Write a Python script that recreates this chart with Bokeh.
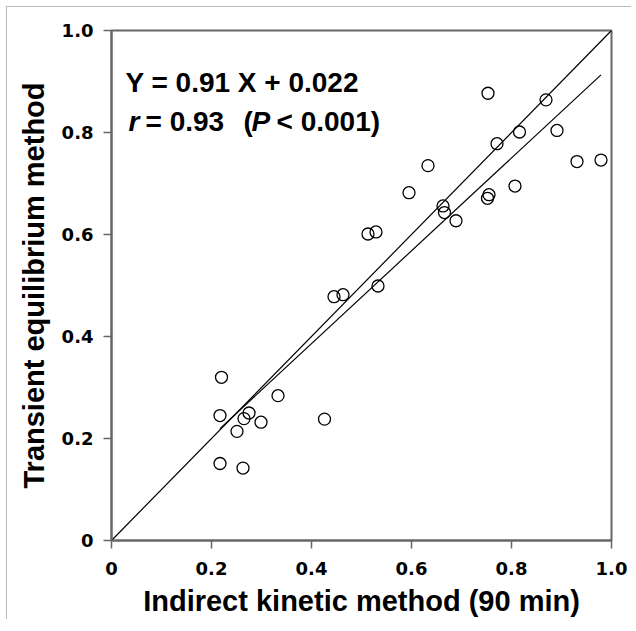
from bokeh.plotting import figure
from bokeh.models import Label, Range1d, FixedTicker
from bokeh.embed import file_html
from bokeh.resources import INLINE

# Data
indirect_kinetic = [0.220, 0.217, 0.275, 0.265, 0.299, 0.251, 0.333, 0.426, 0.217, 0.263,
                    0.445, 0.463, 0.533, 0.513, 0.529, 0.595, 0.633, 0.663, 0.666, 0.689,
                    0.752, 0.755, 0.807, 0.771, 0.816, 0.891, 0.869, 0.753, 0.931, 0.979]
transient_eq = [0.320, 0.245, 0.250, 0.239, 0.232, 0.214, 0.284, 0.238, 0.151, 0.142,
                0.478, 0.482, 0.499, 0.601, 0.605, 0.682, 0.735, 0.656, 0.643, 0.627,
                0.671, 0.678, 0.695, 0.778, 0.801, 0.804, 0.864, 0.877, 0.743, 0.746]
slope = 0.91
intercept = 0.022
identity = [0.0, 1.0]
tick_values = [0, 0.2, 0.4, 0.6, 0.8, 1.0]
tick_labels = {0: "0", 0.2: "0.2", 0.4: "0.4", 0.6: "0.6", 0.8: "0.8", 1.0: "1.0"}

FONT = "Liberation Sans"
TICKFONT = "DejaVu Sans"
AX = "#666666"

p = figure(frame_width=500, frame_height=510,
           x_range=Range1d(0, 1.0), y_range=Range1d(0, 1.0),
           output_backend="svg", toolbar_location=None,
           min_border_left=104, min_border_top=23, min_border_right=20, min_border_bottom=76,
           margin=(6, 0, 0, 6),
           styles={"border-top": "1px solid #b8b8b8", "border-left": "1px solid #b8b8b8"})
p.grid.visible = False
p.outline_line_color = AX
p.outline_line_width = 2
p.background_fill_color = "white"
p.border_fill_color = "white"

for ax in (p.xaxis[0], p.yaxis[0]):
    ax.ticker = FixedTicker(ticks=tick_values)
    ax.major_label_overrides = tick_labels
    ax.minor_tick_line_color = None
    ax.major_tick_in = 0
    ax.major_tick_out = 8
    ax.axis_line_color = AX
    ax.axis_line_width = 2
    ax.major_tick_line_color = AX
    ax.major_tick_line_width = 1.5
    ax.major_label_text_font = TICKFONT
    ax.major_label_text_font_style = "bold"
    ax.major_label_text_font_size = "18px"
    ax.major_label_text_color = "black"
    ax.axis_label_text_font = FONT
    ax.axis_label_text_font_style = "bold"
    ax.axis_label_text_font_size = "29px"
    ax.axis_label_text_color = "black"

p.xaxis.axis_label = "Indirect kinetic method (90 min)"
p.yaxis.axis_label = "Transient equilibrium method"
p.xaxis.major_label_standoff = 13
p.yaxis.major_label_standoff = 10
p.xaxis.axis_label_standoff = 7
p.yaxis.axis_label_standoff = 9

# identity line
p.line(identity, identity, line_color="black", line_width=1.2)
# regression line
x0, x1 = min(indirect_kinetic), max(indirect_kinetic)
p.line([x0, x1], [slope * x0 + intercept, slope * x1 + intercept], line_color="black", line_width=1.2)

p.scatter(indirect_kinetic, transient_eq, size=12, fill_color=None,
          line_color="black", line_width=1.3)

def lab(x, y, text, style="bold"):
    p.add_layout(Label(x=x, y=y, text=text, text_font=FONT, text_font_style=style,
                       text_font_size="28px", text_color="black",
                       text_baseline="alphabetic", text_align="left"))

y1 = (540 - 81.7) / 510
y2 = (540 - 120.5) / 510
lab((125 - 111) / 500, y1, "Y = 0.91 X + 0.022")
lab((128 - 111) / 500, y2, "r", "bold italic")
lab((145 - 111) / 500, y2, "= 0.93")
lab((243 - 111) / 500, y2, "(")
lab((251 - 111) / 500, y2, "P", "bold italic")
lab((276 - 111) / 500, y2, "< 0.001)")

open("out.html", "w").write(file_html(p, INLINE))
